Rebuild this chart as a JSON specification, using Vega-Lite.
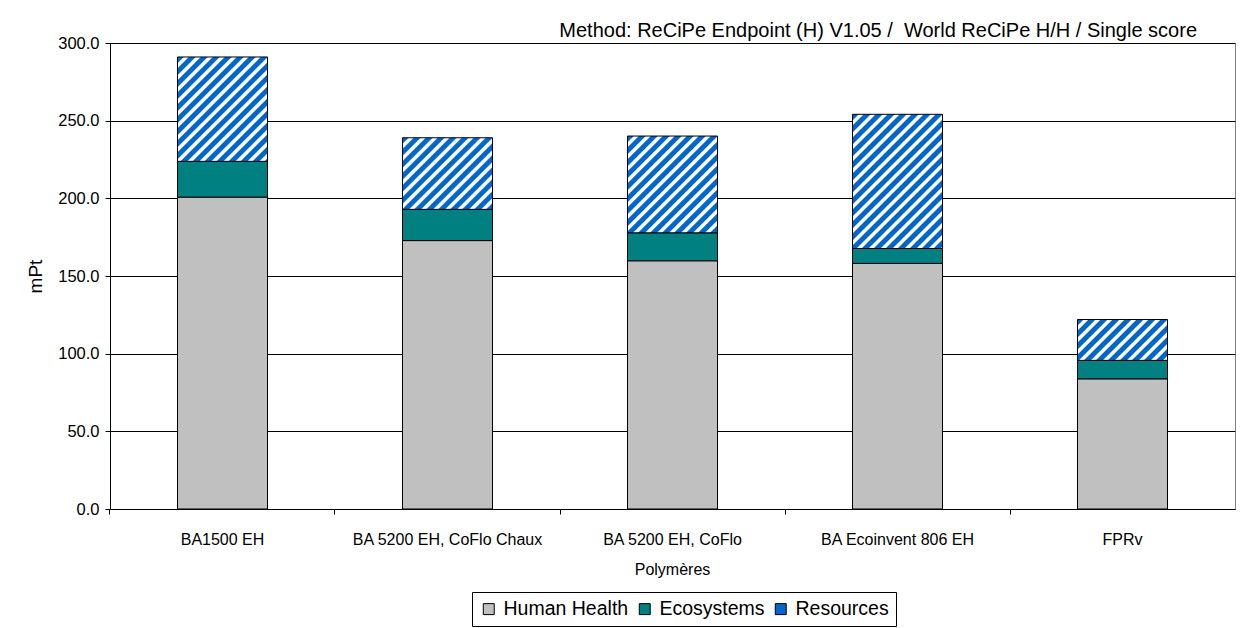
{
  "$schema": "https://vega.github.io/schema/vega-lite/v6.json",
  "width": 1125,
  "height": 466,
  "autosize": {"type": "none"},
  "padding": {"left": 110, "top": 43, "right": 15, "bottom": 119},
  "background": "white",
  "title": {
    "text": "Method: ReCiPe Endpoint (H) V1.05 /\u00a0 World ReCiPe H/H / Single score",
    "anchor": "end",
    "font": "Liberation Sans",
    "fontSize": 20,
    "fontWeight": "normal",
    "color": "black",
    "baseline": "alphabetic",
    "offset": 7,
    "dx": -38,
    "dy": 29
  },
  "data": {
    "values": [
      {"cat": "BA1500 EH", "comp": "Human Health", "o": 1, "value": 200.8},
      {"cat": "BA1500 EH", "comp": "Ecosystems", "o": 2, "value": 23.0},
      {"cat": "BA1500 EH", "comp": "Resources", "o": 3, "value": 67.2},
      {"cat": "BA 5200 EH, CoFlo Chaux", "comp": "Human Health", "o": 1, "value": 172.8},
      {"cat": "BA 5200 EH, CoFlo Chaux", "comp": "Ecosystems", "o": 2, "value": 20.1},
      {"cat": "BA 5200 EH, CoFlo Chaux", "comp": "Resources", "o": 3, "value": 46.1},
      {"cat": "BA 5200 EH, CoFlo Polymères", "comp": "Human Health", "o": 1, "value": 159.8},
      {"cat": "BA 5200 EH, CoFlo Polymères", "comp": "Ecosystems", "o": 2, "value": 18.0},
      {"cat": "BA 5200 EH, CoFlo Polymères", "comp": "Resources", "o": 3, "value": 62.3},
      {"cat": "BA Ecoinvent 806 EH", "comp": "Human Health", "o": 1, "value": 158.1},
      {"cat": "BA Ecoinvent 806 EH", "comp": "Ecosystems", "o": 2, "value": 9.6},
      {"cat": "BA Ecoinvent 806 EH", "comp": "Resources", "o": 3, "value": 86.4},
      {"cat": "FPRv", "comp": "Human Health", "o": 1, "value": 83.8},
      {"cat": "FPRv", "comp": "Ecosystems", "o": 2, "value": 11.9},
      {"cat": "FPRv", "comp": "Resources", "o": 3, "value": 26.3}
    ]
  },
  "mark": {"type": "bar", "stroke": "black", "strokeWidth": 1},
  "encoding": {
    "x": {
      "field": "cat",
      "type": "nominal",
      "sort": null,
      "scale": {"paddingInner": 0.6, "paddingOuter": 0.3},
      "axis": {
        "title": null,
        "labelAngle": 0,
        "labelFont": "Liberation Sans",
        "labelFontSize": 16,
        "labelColor": "black",
        "labelPadding": 17.5,
        "labelLineHeight": 30,
        "labelBaseline": "top",
        "labelLimit": 400,
        "labelOverlap": false,
        "labelFlush": false,
        "tickSize": 5,
        "tickColor": "black",
        "domainColor": "black",
        "grid": false,
        "bandPosition": -0.75,
        "labelExpr": "datum.label == 'BA 5200 EH, CoFlo Polymères' ? ['BA 5200 EH, CoFlo', 'Polymères'] : datum.label"
      }
    },
    "y": {
      "field": "value",
      "type": "quantitative",
      "stack": "zero",
      "scale": {"domain": [0, 300], "nice": false},
      "axis": {
        "values": [0, 50, 100, 150, 200, 250, 300],
        "format": ".1f",
        "labelFont": "Liberation Sans",
        "labelFontSize": 16.5,
        "labelColor": "black",
        "labelPadding": 6,
        "tickSize": 5,
        "tickColor": "black",
        "domainColor": "black",
        "grid": true,
        "gridColor": "black",
        "gridWidth": 1,
        "title": "mPt",
        "titleFont": "Liberation Sans",
        "titleFontSize": 19,
        "titleFontWeight": "normal",
        "titleColor": "black",
        "titleAngle": -90,
        "titleX": -69,
        "titleY": 233,
        "titleBaseline": "alphabetic",
        "titleAlign": "center"
      }
    },
    "order": {"field": "o", "type": "quantitative"},
    "fill": {
      "condition": [
        {"test": "datum.comp === 'Resources' && datum.cat === 'BA1500 EH'", "value": {"gradient": "linear", "x1": 0, "y1": 0, "x2": 1.1369, "y2": 1.3188, "stops": [{"offset":0,"color":"#06c"},{"offset":0.0225,"color":"#06c"},{"offset":0.029,"color":"#fff"},{"offset":0.0435,"color":"#fff"},{"offset":0.05,"color":"#06c"},{"offset":0.0725,"color":"#06c"},{"offset":0.079,"color":"#fff"},{"offset":0.0935,"color":"#fff"},{"offset":0.1,"color":"#06c"},{"offset":0.1225,"color":"#06c"},{"offset":0.129,"color":"#fff"},{"offset":0.1435,"color":"#fff"},{"offset":0.15,"color":"#06c"},{"offset":0.1725,"color":"#06c"},{"offset":0.179,"color":"#fff"},{"offset":0.1935,"color":"#fff"},{"offset":0.2,"color":"#06c"},{"offset":0.2225,"color":"#06c"},{"offset":0.229,"color":"#fff"},{"offset":0.2435,"color":"#fff"},{"offset":0.25,"color":"#06c"},{"offset":0.2725,"color":"#06c"},{"offset":0.279,"color":"#fff"},{"offset":0.2935,"color":"#fff"},{"offset":0.3,"color":"#06c"},{"offset":0.3225,"color":"#06c"},{"offset":0.329,"color":"#fff"},{"offset":0.3435,"color":"#fff"},{"offset":0.35,"color":"#06c"},{"offset":0.3725,"color":"#06c"},{"offset":0.379,"color":"#fff"},{"offset":0.3935,"color":"#fff"},{"offset":0.4,"color":"#06c"},{"offset":0.4225,"color":"#06c"},{"offset":0.429,"color":"#fff"},{"offset":0.4435,"color":"#fff"},{"offset":0.45,"color":"#06c"},{"offset":0.4725,"color":"#06c"},{"offset":0.479,"color":"#fff"},{"offset":0.4935,"color":"#fff"},{"offset":0.5,"color":"#06c"},{"offset":0.5225,"color":"#06c"},{"offset":0.529,"color":"#fff"},{"offset":0.5435,"color":"#fff"},{"offset":0.55,"color":"#06c"},{"offset":0.5725,"color":"#06c"},{"offset":0.579,"color":"#fff"},{"offset":0.5935,"color":"#fff"},{"offset":0.6,"color":"#06c"},{"offset":0.6225,"color":"#06c"},{"offset":0.629,"color":"#fff"},{"offset":0.6435,"color":"#fff"},{"offset":0.65,"color":"#06c"},{"offset":0.6725,"color":"#06c"},{"offset":0.679,"color":"#fff"},{"offset":0.6935,"color":"#fff"},{"offset":0.7,"color":"#06c"},{"offset":0.7225,"color":"#06c"},{"offset":0.729,"color":"#fff"},{"offset":0.7435,"color":"#fff"},{"offset":0.75,"color":"#06c"},{"offset":0.7725,"color":"#06c"},{"offset":0.779,"color":"#fff"},{"offset":0.7935,"color":"#fff"},{"offset":0.8,"color":"#06c"},{"offset":0.8225,"color":"#06c"},{"offset":0.829,"color":"#fff"},{"offset":0.8435,"color":"#fff"},{"offset":0.85,"color":"#06c"},{"offset":0.8725,"color":"#06c"},{"offset":0.879,"color":"#fff"},{"offset":0.8935,"color":"#fff"},{"offset":0.9,"color":"#06c"},{"offset":0.9225,"color":"#06c"},{"offset":0.929,"color":"#fff"},{"offset":0.9435,"color":"#fff"},{"offset":0.95,"color":"#06c"},{"offset":0.9725,"color":"#06c"},{"offset":0.979,"color":"#fff"},{"offset":0.9935,"color":"#fff"},{"offset":1,"color":"#06c"}]}},
        {"test": "datum.comp === 'Resources' && datum.cat === 'BA 5200 EH, CoFlo Chaux'", "value": {"gradient": "linear", "x1": 0, "y1": 0, "x2": 1.6330, "y2": 1.2992, "stops": [{"offset":0,"color":"#06c"},{"offset":0.0225,"color":"#06c"},{"offset":0.029,"color":"#fff"},{"offset":0.0435,"color":"#fff"},{"offset":0.05,"color":"#06c"},{"offset":0.0725,"color":"#06c"},{"offset":0.079,"color":"#fff"},{"offset":0.0935,"color":"#fff"},{"offset":0.1,"color":"#06c"},{"offset":0.1225,"color":"#06c"},{"offset":0.129,"color":"#fff"},{"offset":0.1435,"color":"#fff"},{"offset":0.15,"color":"#06c"},{"offset":0.1725,"color":"#06c"},{"offset":0.179,"color":"#fff"},{"offset":0.1935,"color":"#fff"},{"offset":0.2,"color":"#06c"},{"offset":0.2225,"color":"#06c"},{"offset":0.229,"color":"#fff"},{"offset":0.2435,"color":"#fff"},{"offset":0.25,"color":"#06c"},{"offset":0.2725,"color":"#06c"},{"offset":0.279,"color":"#fff"},{"offset":0.2935,"color":"#fff"},{"offset":0.3,"color":"#06c"},{"offset":0.3225,"color":"#06c"},{"offset":0.329,"color":"#fff"},{"offset":0.3435,"color":"#fff"},{"offset":0.35,"color":"#06c"},{"offset":0.3725,"color":"#06c"},{"offset":0.379,"color":"#fff"},{"offset":0.3935,"color":"#fff"},{"offset":0.4,"color":"#06c"},{"offset":0.4225,"color":"#06c"},{"offset":0.429,"color":"#fff"},{"offset":0.4435,"color":"#fff"},{"offset":0.45,"color":"#06c"},{"offset":0.4725,"color":"#06c"},{"offset":0.479,"color":"#fff"},{"offset":0.4935,"color":"#fff"},{"offset":0.5,"color":"#06c"},{"offset":0.5225,"color":"#06c"},{"offset":0.529,"color":"#fff"},{"offset":0.5435,"color":"#fff"},{"offset":0.55,"color":"#06c"},{"offset":0.5725,"color":"#06c"},{"offset":0.579,"color":"#fff"},{"offset":0.5935,"color":"#fff"},{"offset":0.6,"color":"#06c"},{"offset":0.6225,"color":"#06c"},{"offset":0.629,"color":"#fff"},{"offset":0.6435,"color":"#fff"},{"offset":0.65,"color":"#06c"},{"offset":0.6725,"color":"#06c"},{"offset":0.679,"color":"#fff"},{"offset":0.6935,"color":"#fff"},{"offset":0.7,"color":"#06c"},{"offset":0.7225,"color":"#06c"},{"offset":0.729,"color":"#fff"},{"offset":0.7435,"color":"#fff"},{"offset":0.75,"color":"#06c"},{"offset":0.7725,"color":"#06c"},{"offset":0.779,"color":"#fff"},{"offset":0.7935,"color":"#fff"},{"offset":0.8,"color":"#06c"},{"offset":0.8225,"color":"#06c"},{"offset":0.829,"color":"#fff"},{"offset":0.8435,"color":"#fff"},{"offset":0.85,"color":"#06c"},{"offset":0.8725,"color":"#06c"},{"offset":0.879,"color":"#fff"},{"offset":0.8935,"color":"#fff"},{"offset":0.9,"color":"#06c"},{"offset":0.9225,"color":"#06c"},{"offset":0.929,"color":"#fff"},{"offset":0.9435,"color":"#fff"},{"offset":0.95,"color":"#06c"},{"offset":0.9725,"color":"#06c"},{"offset":0.979,"color":"#fff"},{"offset":0.9935,"color":"#fff"},{"offset":1,"color":"#06c"}]}},
        {"test": "datum.comp === 'Resources' && datum.cat === 'BA 5200 EH, CoFlo Polymères'", "value": {"gradient": "linear", "x1": 0, "y1": 0, "x2": 1.2364, "y2": 1.3298, "stops": [{"offset":0,"color":"#06c"},{"offset":0.0225,"color":"#06c"},{"offset":0.029,"color":"#fff"},{"offset":0.0435,"color":"#fff"},{"offset":0.05,"color":"#06c"},{"offset":0.0725,"color":"#06c"},{"offset":0.079,"color":"#fff"},{"offset":0.0935,"color":"#fff"},{"offset":0.1,"color":"#06c"},{"offset":0.1225,"color":"#06c"},{"offset":0.129,"color":"#fff"},{"offset":0.1435,"color":"#fff"},{"offset":0.15,"color":"#06c"},{"offset":0.1725,"color":"#06c"},{"offset":0.179,"color":"#fff"},{"offset":0.1935,"color":"#fff"},{"offset":0.2,"color":"#06c"},{"offset":0.2225,"color":"#06c"},{"offset":0.229,"color":"#fff"},{"offset":0.2435,"color":"#fff"},{"offset":0.25,"color":"#06c"},{"offset":0.2725,"color":"#06c"},{"offset":0.279,"color":"#fff"},{"offset":0.2935,"color":"#fff"},{"offset":0.3,"color":"#06c"},{"offset":0.3225,"color":"#06c"},{"offset":0.329,"color":"#fff"},{"offset":0.3435,"color":"#fff"},{"offset":0.35,"color":"#06c"},{"offset":0.3725,"color":"#06c"},{"offset":0.379,"color":"#fff"},{"offset":0.3935,"color":"#fff"},{"offset":0.4,"color":"#06c"},{"offset":0.4225,"color":"#06c"},{"offset":0.429,"color":"#fff"},{"offset":0.4435,"color":"#fff"},{"offset":0.45,"color":"#06c"},{"offset":0.4725,"color":"#06c"},{"offset":0.479,"color":"#fff"},{"offset":0.4935,"color":"#fff"},{"offset":0.5,"color":"#06c"},{"offset":0.5225,"color":"#06c"},{"offset":0.529,"color":"#fff"},{"offset":0.5435,"color":"#fff"},{"offset":0.55,"color":"#06c"},{"offset":0.5725,"color":"#06c"},{"offset":0.579,"color":"#fff"},{"offset":0.5935,"color":"#fff"},{"offset":0.6,"color":"#06c"},{"offset":0.6225,"color":"#06c"},{"offset":0.629,"color":"#fff"},{"offset":0.6435,"color":"#fff"},{"offset":0.65,"color":"#06c"},{"offset":0.6725,"color":"#06c"},{"offset":0.679,"color":"#fff"},{"offset":0.6935,"color":"#fff"},{"offset":0.7,"color":"#06c"},{"offset":0.7225,"color":"#06c"},{"offset":0.729,"color":"#fff"},{"offset":0.7435,"color":"#fff"},{"offset":0.75,"color":"#06c"},{"offset":0.7725,"color":"#06c"},{"offset":0.779,"color":"#fff"},{"offset":0.7935,"color":"#fff"},{"offset":0.8,"color":"#06c"},{"offset":0.8225,"color":"#06c"},{"offset":0.829,"color":"#fff"},{"offset":0.8435,"color":"#fff"},{"offset":0.85,"color":"#06c"},{"offset":0.8725,"color":"#06c"},{"offset":0.879,"color":"#fff"},{"offset":0.8935,"color":"#fff"},{"offset":0.9,"color":"#06c"},{"offset":0.9225,"color":"#06c"},{"offset":0.929,"color":"#fff"},{"offset":0.9435,"color":"#fff"},{"offset":0.95,"color":"#06c"},{"offset":0.9725,"color":"#06c"},{"offset":0.979,"color":"#fff"},{"offset":0.9935,"color":"#fff"},{"offset":1,"color":"#06c"}]}},
        {"test": "datum.comp === 'Resources' && datum.cat === 'BA Ecoinvent 806 EH'", "value": {"gradient": "linear", "x1": 0, "y1": 0, "x2": 0.8273, "y2": 1.2335, "stops": [{"offset":0,"color":"#06c"},{"offset":0.0225,"color":"#06c"},{"offset":0.029,"color":"#fff"},{"offset":0.0435,"color":"#fff"},{"offset":0.05,"color":"#06c"},{"offset":0.0725,"color":"#06c"},{"offset":0.079,"color":"#fff"},{"offset":0.0935,"color":"#fff"},{"offset":0.1,"color":"#06c"},{"offset":0.1225,"color":"#06c"},{"offset":0.129,"color":"#fff"},{"offset":0.1435,"color":"#fff"},{"offset":0.15,"color":"#06c"},{"offset":0.1725,"color":"#06c"},{"offset":0.179,"color":"#fff"},{"offset":0.1935,"color":"#fff"},{"offset":0.2,"color":"#06c"},{"offset":0.2225,"color":"#06c"},{"offset":0.229,"color":"#fff"},{"offset":0.2435,"color":"#fff"},{"offset":0.25,"color":"#06c"},{"offset":0.2725,"color":"#06c"},{"offset":0.279,"color":"#fff"},{"offset":0.2935,"color":"#fff"},{"offset":0.3,"color":"#06c"},{"offset":0.3225,"color":"#06c"},{"offset":0.329,"color":"#fff"},{"offset":0.3435,"color":"#fff"},{"offset":0.35,"color":"#06c"},{"offset":0.3725,"color":"#06c"},{"offset":0.379,"color":"#fff"},{"offset":0.3935,"color":"#fff"},{"offset":0.4,"color":"#06c"},{"offset":0.4225,"color":"#06c"},{"offset":0.429,"color":"#fff"},{"offset":0.4435,"color":"#fff"},{"offset":0.45,"color":"#06c"},{"offset":0.4725,"color":"#06c"},{"offset":0.479,"color":"#fff"},{"offset":0.4935,"color":"#fff"},{"offset":0.5,"color":"#06c"},{"offset":0.5225,"color":"#06c"},{"offset":0.529,"color":"#fff"},{"offset":0.5435,"color":"#fff"},{"offset":0.55,"color":"#06c"},{"offset":0.5725,"color":"#06c"},{"offset":0.579,"color":"#fff"},{"offset":0.5935,"color":"#fff"},{"offset":0.6,"color":"#06c"},{"offset":0.6225,"color":"#06c"},{"offset":0.629,"color":"#fff"},{"offset":0.6435,"color":"#fff"},{"offset":0.65,"color":"#06c"},{"offset":0.6725,"color":"#06c"},{"offset":0.679,"color":"#fff"},{"offset":0.6935,"color":"#fff"},{"offset":0.7,"color":"#06c"},{"offset":0.7225,"color":"#06c"},{"offset":0.729,"color":"#fff"},{"offset":0.7435,"color":"#fff"},{"offset":0.75,"color":"#06c"},{"offset":0.7725,"color":"#06c"},{"offset":0.779,"color":"#fff"},{"offset":0.7935,"color":"#fff"},{"offset":0.8,"color":"#06c"},{"offset":0.8225,"color":"#06c"},{"offset":0.829,"color":"#fff"},{"offset":0.8435,"color":"#fff"},{"offset":0.85,"color":"#06c"},{"offset":0.8725,"color":"#06c"},{"offset":0.879,"color":"#fff"},{"offset":0.8935,"color":"#fff"},{"offset":0.9,"color":"#06c"},{"offset":0.9225,"color":"#06c"},{"offset":0.929,"color":"#fff"},{"offset":0.9435,"color":"#fff"},{"offset":0.95,"color":"#06c"},{"offset":0.9725,"color":"#06c"},{"offset":0.979,"color":"#fff"},{"offset":0.9935,"color":"#fff"},{"offset":1,"color":"#06c"}]}},
        {"test": "datum.comp === 'Resources' && datum.cat === 'FPRv'", "value": {"gradient": "linear", "x1": 0, "y1": 0, "x2": 2.2111, "y2": 1.0036, "stops": [{"offset":0,"color":"#06c"},{"offset":0.0225,"color":"#06c"},{"offset":0.029,"color":"#fff"},{"offset":0.0435,"color":"#fff"},{"offset":0.05,"color":"#06c"},{"offset":0.0725,"color":"#06c"},{"offset":0.079,"color":"#fff"},{"offset":0.0935,"color":"#fff"},{"offset":0.1,"color":"#06c"},{"offset":0.1225,"color":"#06c"},{"offset":0.129,"color":"#fff"},{"offset":0.1435,"color":"#fff"},{"offset":0.15,"color":"#06c"},{"offset":0.1725,"color":"#06c"},{"offset":0.179,"color":"#fff"},{"offset":0.1935,"color":"#fff"},{"offset":0.2,"color":"#06c"},{"offset":0.2225,"color":"#06c"},{"offset":0.229,"color":"#fff"},{"offset":0.2435,"color":"#fff"},{"offset":0.25,"color":"#06c"},{"offset":0.2725,"color":"#06c"},{"offset":0.279,"color":"#fff"},{"offset":0.2935,"color":"#fff"},{"offset":0.3,"color":"#06c"},{"offset":0.3225,"color":"#06c"},{"offset":0.329,"color":"#fff"},{"offset":0.3435,"color":"#fff"},{"offset":0.35,"color":"#06c"},{"offset":0.3725,"color":"#06c"},{"offset":0.379,"color":"#fff"},{"offset":0.3935,"color":"#fff"},{"offset":0.4,"color":"#06c"},{"offset":0.4225,"color":"#06c"},{"offset":0.429,"color":"#fff"},{"offset":0.4435,"color":"#fff"},{"offset":0.45,"color":"#06c"},{"offset":0.4725,"color":"#06c"},{"offset":0.479,"color":"#fff"},{"offset":0.4935,"color":"#fff"},{"offset":0.5,"color":"#06c"},{"offset":0.5225,"color":"#06c"},{"offset":0.529,"color":"#fff"},{"offset":0.5435,"color":"#fff"},{"offset":0.55,"color":"#06c"},{"offset":0.5725,"color":"#06c"},{"offset":0.579,"color":"#fff"},{"offset":0.5935,"color":"#fff"},{"offset":0.6,"color":"#06c"},{"offset":0.6225,"color":"#06c"},{"offset":0.629,"color":"#fff"},{"offset":0.6435,"color":"#fff"},{"offset":0.65,"color":"#06c"},{"offset":0.6725,"color":"#06c"},{"offset":0.679,"color":"#fff"},{"offset":0.6935,"color":"#fff"},{"offset":0.7,"color":"#06c"},{"offset":0.7225,"color":"#06c"},{"offset":0.729,"color":"#fff"},{"offset":0.7435,"color":"#fff"},{"offset":0.75,"color":"#06c"},{"offset":0.7725,"color":"#06c"},{"offset":0.779,"color":"#fff"},{"offset":0.7935,"color":"#fff"},{"offset":0.8,"color":"#06c"},{"offset":0.8225,"color":"#06c"},{"offset":0.829,"color":"#fff"},{"offset":0.8435,"color":"#fff"},{"offset":0.85,"color":"#06c"},{"offset":0.8725,"color":"#06c"},{"offset":0.879,"color":"#fff"},{"offset":0.8935,"color":"#fff"},{"offset":0.9,"color":"#06c"},{"offset":0.9225,"color":"#06c"},{"offset":0.929,"color":"#fff"},{"offset":0.9435,"color":"#fff"},{"offset":0.95,"color":"#06c"},{"offset":0.9725,"color":"#06c"},{"offset":0.979,"color":"#fff"},{"offset":0.9935,"color":"#fff"},{"offset":1,"color":"#06c"}]}}
      ],
      "field": "comp",
      "type": "nominal",
      "scale": {"domain": ["Human Health", "Ecosystems", "Resources"], "range": ["#C0C0C0", "#008080", "#0066CC"]},
      "legend": {
        "orient": "none",
        "legendX": 362,
        "legendY": 549,
        "direction": "horizontal",
        "title": null,
        "strokeColor": "black",
        "fillColor": "white",
        "padding": 7,
        "cornerRadius": 0,
        "symbolType": "square",
        "symbolSize": 120,
        "symbolStrokeColor": "black",
        "symbolStrokeWidth": 1,
        "labelFont": "Liberation Sans",
        "labelFontSize": 19.5,
        "labelColor": "black",
        "labelOffset": 5,
        "labelLimit": 300,
        "columnPadding": 6
      }
    }
  },
  "config": {
    "view": {"stroke": "#808080", "strokeWidth": 1},
    "font": "Liberation Sans"
  }
}
